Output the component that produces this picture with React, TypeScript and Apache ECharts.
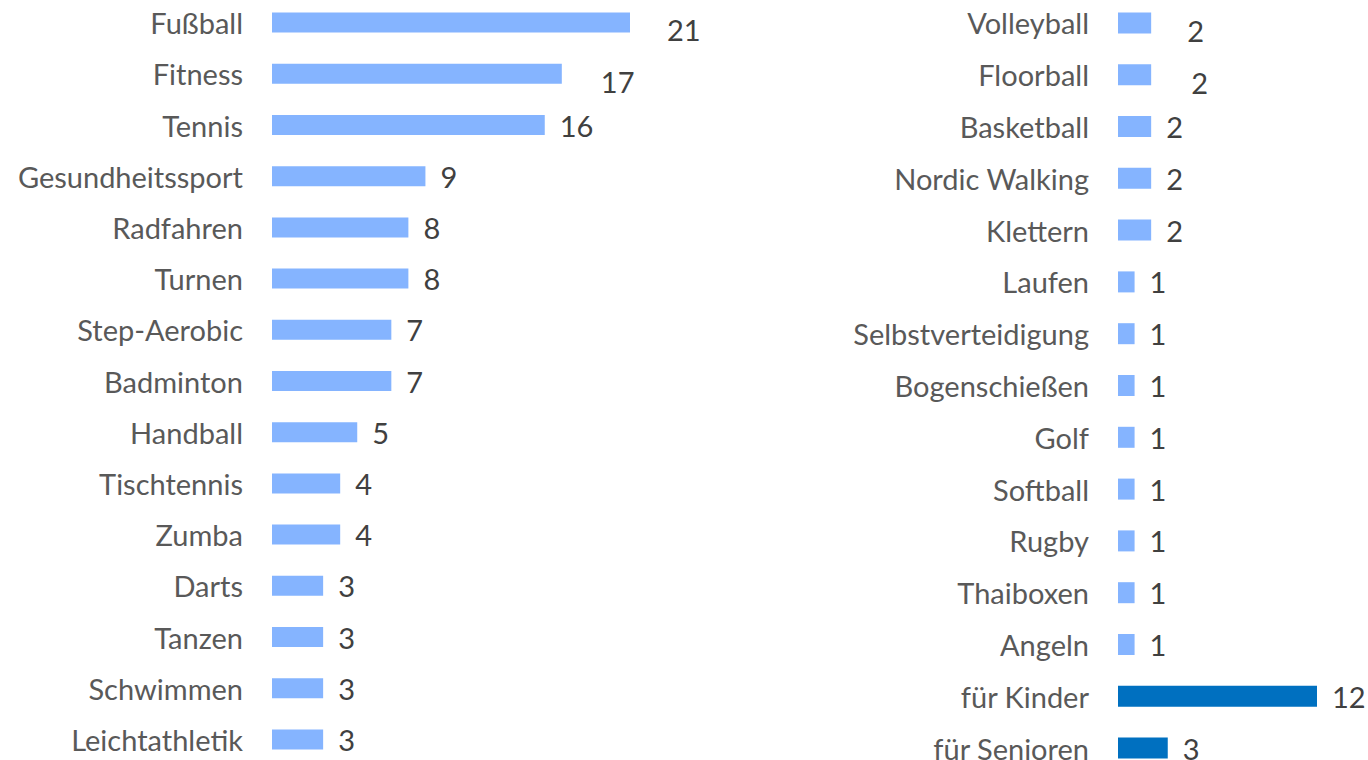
import React, { useEffect, useRef } from "react";
import * as echarts from "echarts";

const leftCategories = [
  "Fußball", "Fitness", "Tennis", "Gesundheitssport", "Radfahren", "Turnen",
  "Step-Aerobic", "Badminton", "Handball", "Tischtennis", "Zumba", "Darts",
  "Tanzen", "Schwimmen", "Leichtathletik",
];
const leftValues = [21, 17, 16, 9, 8, 8, 7, 7, 5, 4, 4, 3, 3, 3, 3];

const rightCategories = [
  "Volleyball", "Floorball", "Basketball", "Nordic Walking", "Klettern", "Laufen",
  "Selbstverteidigung", "Bogenschießen", "Golf", "Softball", "Rugby", "Thaiboxen",
  "Angeln", "für Kinder", "für Senioren",
];
const rightValues = [2, 2, 2, 2, 2, 1, 1, 1, 1, 1, 1, 1, 1, 12, 3];

const highlightedCategories = ["für Kinder", "für Senioren"];

// label nudges (style only) for labels that sit displaced in the reference
const labelNudges: Record<string, [number, number]> = {
  "Fußball": [22, 7],
  "Fitness": [24, 8],
  "Volleyball": [21, 8],
  "Floorball": [25, 8],
};

const FONT = "Lato";
const LIGHT = "#85B4FF";
const DARK = "#0070C0";

function buildData(cats: string[], vals: number[]) {
  return vals.map((v, i) => {
    const name = cats[i];
    const item: any = { value: v };
    if (highlightedCategories.includes(name)) item.itemStyle = { color: DARK };
    if (labelNudges[name]) item.label = { offset: labelNudges[name] };
    return item;
  });
}

export default function App() {
  const ref = useRef<HTMLDivElement>(null);
  useEffect(() => {
    if (!ref.current) return;
    const chart = echarts.init(ref.current, undefined, { renderer: "svg" });
    const catLabel = {
      color: "#595959",
      fontFamily: FONT,
      fontSize: 29,
      lineHeight: 24,
      margin: 29,
    };
    const valLabel = {
      show: true,
      position: "right",
      distance: 15,
      color: "#404040",
      fontFamily: FONT,
      fontSize: 29,
      lineHeight: 24,
    };
    chart.setOption({
      animation: false,
      backgroundColor: "#ffffff",
      grid: [
        { left: 272, top: -3, width: 358, height: 768, outerBoundsMode: "none", containLabel: false },
        { left: 1118, top: -3, width: 199, height: 777, outerBoundsMode: "none", containLabel: false },
      ],
      xAxis: [
        { gridIndex: 0, type: "value", min: 0, max: 21, show: false },
        { gridIndex: 1, type: "value", min: 0, max: 12, show: false },
      ],
      yAxis: [
        {
          gridIndex: 0,
          type: "category",
          inverse: true,
          data: leftCategories,
          axisLine: { show: false },
          axisTick: { show: false },
          splitLine: { show: false },
          axisLabel: catLabel,
        },
        {
          gridIndex: 1,
          type: "category",
          inverse: true,
          data: rightCategories,
          axisLine: { show: false },
          axisTick: { show: false },
          splitLine: { show: false },
          axisLabel: catLabel,
        },
      ],
      series: [
        {
          type: "bar",
          xAxisIndex: 0,
          yAxisIndex: 0,
          barWidth: 20,
          itemStyle: { color: LIGHT },
          label: valLabel,
          data: buildData(leftCategories, leftValues),
        },
        {
          type: "bar",
          xAxisIndex: 1,
          yAxisIndex: 1,
          barWidth: 21,
          itemStyle: { color: LIGHT },
          label: valLabel,
          data: buildData(rightCategories, rightValues),
        },
      ],
    });
    return () => chart.dispose();
  }, []);
  return (
    <div
      ref={ref}
      style={{ position: "fixed", left: 0, top: 0, width: 1368, height: 760, background: "#fff" }}
    />
  );
}
